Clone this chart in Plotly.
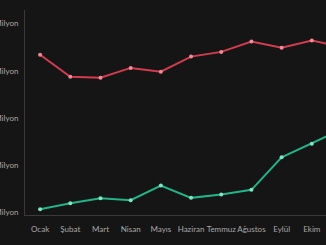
import plotly.graph_objects as go

months = ["Ocak", "Şubat", "Mart", "Nisan", "Mayıs", "Haziran", "Temmuz",
          "Ağustos", "Eylül", "Ekim", "Kasım"]
red_values = [33.4, 28.7, 28.5, 30.6, 29.8, 33.0, 34.0, 36.2, 34.9, 36.4, 35.1]
green_values = [0.6, 1.85, 2.9, 2.5, 5.6, 3.0, 3.7, 4.7, 11.6, 14.5, 17.6]
y_ticks = [0, 10, 20, 30, 40]
y_ticktext = ["0 Milyon", "10 Milyon", "20 Milyon", "30 Milyon", "40 Milyon"]

fig = go.Figure()
fig.add_trace(go.Scatter(
    x=list(range(len(months))), y=red_values, mode="lines+markers",
    line=dict(color="#d23c50", width=2),
    marker=dict(color="#f08a98", size=4),
))
fig.add_trace(go.Scatter(
    x=list(range(len(months))), y=green_values, mode="lines+markers",
    line=dict(color="#22b386", width=2),
    marker=dict(color="#7fe6c4", size=4),
))

fig.update_layout(
    width=326, height=245,
    margin=dict(l=25, r=0, t=10, b=30),
    paper_bgcolor="#151515", plot_bgcolor="#151515",
    showlegend=False,
    font=dict(family="Lato", size=8, color="#a8a8a8"),
    xaxis=dict(
        range=[-0.5, 9.47],
        tickmode="array", tickvals=list(range(len(months))), ticktext=months,
        tickangle=0, automargin=False,
        showgrid=False, zeroline=False,
        showline=True, linecolor="#3a3a3a", linewidth=1,
        ticks="", ticklabelstandoff=6,
    ),
    yaxis=dict(
        range=[-0.64, 42.9],
        tickmode="array", tickvals=y_ticks, ticktext=y_ticktext,
        showgrid=False, zeroline=False,
        showline=True, linecolor="#3a3a3a", linewidth=1,
        ticks="", automargin=False, ticklabelstandoff=4,
    ),
)

fig.write_html("out.html")
